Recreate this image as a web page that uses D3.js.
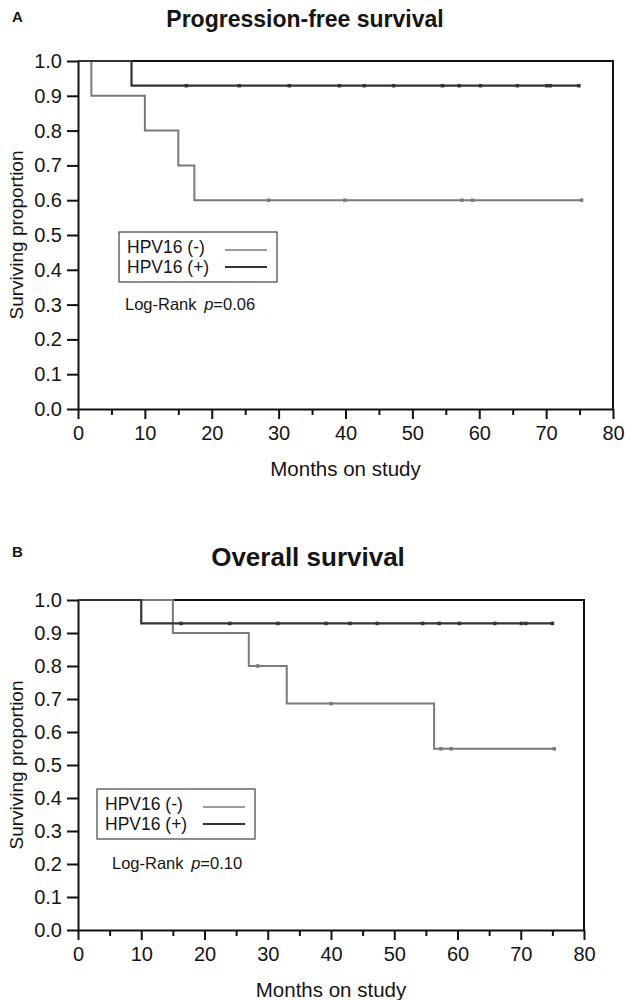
<!DOCTYPE html>
<html>
<head>
<meta charset="utf-8">
<script src="https://cdn.jsdelivr.net/npm/d3@7"></script>
<style>
  body { margin: 0; background: #fff; }
  svg text { font-family: "Liberation Sans", Arial, sans-serif; fill: #151515; }
</style>
</head>
<body>
<div id="canvas"></div>
<script>
// Kaplan-Meier data (months, surviving proportion)
const xTicks = [0, 10, 20, 30, 40, 50, 60, 70, 80];
const xMinorTicks = [5, 15, 25, 35, 45, 55, 65, 75];
const yTicks = [0, 0.1, 0.2, 0.3, 0.4, 0.5, 0.6, 0.7, 0.8, 0.9, 1.0];
const seriesNames = ["HPV16 (-)", "HPV16 (+)"];

// A: progression-free survival
const pfsNegTimes = [0, 2, 10, 15, 17.4];
const pfsNegSurv = [1.0, 0.9, 0.8, 0.7, 0.6];
const pfsNegCensor = [28.5, 39.9, 57.4, 59.0, 75.3];
const pfsPosTimes = [0, 8];
const pfsPosSurv = [1.0, 0.929];
const pfsPosCensor = [16.2, 24.1, 31.6, 39.1, 42.8, 47.2, 54.5, 57.0, 60.2, 65.7, 70.1, 70.6, 74.9];

// B: overall survival
const osNegTimes = [0, 15, 27, 33, 56.3];
const osNegSurv = [1.0, 0.9, 0.8, 0.686, 0.549];
const osNegCensor = [28.4, 40.0, 57.4, 59.0, 75.3];
const osPosTimes = [0, 10];
const osPosSurv = [1.0, 0.929];
const osPosCensor = [16.3, 24.0, 31.6, 39.2, 43.0, 47.3, 54.5, 57.1, 60.3, 65.9, 70.1, 70.8, 75.0];

const negColor = "#7a7a7a";
const posColor = "#333333";

const svg = d3.select("#canvas").append("svg")
  .attr("width", 625)
  .attr("height", 1000);

function curve(times, surv, censor) {
  const pts = times.map((t, i) => ({ t: t, s: surv[i] }));
  const end = d3.max(censor);
  pts.push({ t: end, s: surv[surv.length - 1] });
  return pts;
}

function survAt(times, surv, t) {
  let s = surv[0];
  times.forEach((tt, i) => { if (tt <= t) s = surv[i]; });
  return s;
}

function drawPanel(p) {
  const x = d3.scaleLinear().domain([0, 80]).range([p.left, p.right]);
  const y = d3.scaleLinear().domain([0, 1]).range([p.bottom, p.top]);
  const g = svg.append("g");

  // panel letter + title
  g.append("text").attr("x", 12).attr("y", p.letterY)
    .style("font-size", "15px").style("font-weight", "bold").text(p.letter);
  g.append("text").attr("x", p.titleX).attr("y", p.titleY)
    .attr("text-anchor", "middle")
    .style("font-size", p.titleSize + "px").style("font-weight", "bold").text(p.title);

  // frame (top + right)
  g.append("path")
    .attr("d", `M${p.left},${p.top}H${p.right}V${p.bottom}`)
    .attr("fill", "none").attr("stroke", "#111").attr("stroke-width", 2);

  const line = d3.line().x(d => x(d.t)).y(d => y(d.s)).curve(d3.curveStepAfter);

  const series = [
    { times: p.negTimes, surv: p.negSurv, censor: p.negCensor, color: negColor, w: 2 },
    { times: p.posTimes, surv: p.posSurv, censor: p.posCensor, color: posColor, w: 2.2 }
  ];
  series.forEach(s => {
    g.append("path")
      .datum(curve(s.times, s.surv, s.censor))
      .attr("d", line)
      .attr("fill", "none")
      .attr("stroke", s.color)
      .attr("stroke-width", s.w);
    g.selectAll(null)
      .data(s.censor)
      .enter().append("rect")
      .attr("x", d => x(d) - 1.75)
      .attr("y", d => y(survAt(s.times, s.surv, d)) - 1.75)
      .attr("width", 3.5)
      .attr("height", 3.5)
      .attr("fill", s.color);
  });

  // axes
  const xAxis = g.append("g")
    .attr("transform", `translate(0,${p.bottom})`)
    .call(d3.axisBottom(x).tickValues(xTicks).tickSize(10).tickSizeOuter(0).tickPadding(7));
  g.append("g")
    .attr("transform", `translate(0,${p.bottom})`)
    .call(d3.axisBottom(x).tickValues(xMinorTicks).tickSize(6).tickSizeOuter(0).tickFormat(""))
    .call(a => a.select(".domain").remove());
  const yAxis = g.append("g")
    .attr("transform", `translate(${p.left},0)`)
    .call(d3.axisLeft(y).tickValues(yTicks).tickSize(11).tickSizeOuter(0).tickPadding(5)
      .tickFormat(d3.format(".1f")));

  g.selectAll(".domain").attr("stroke", "#111").attr("stroke-width", 2);
  g.selectAll(".tick line").attr("stroke", "#111").attr("stroke-width", 2);
  xAxis.selectAll("text").style("font-size", "20px").attr("fill", "#151515");
  yAxis.selectAll("text").style("font-size", "20px").attr("fill", "#151515");

  // axis titles
  g.append("text")
    .attr("x", (p.left + p.right) / 2).attr("y", p.bottom + 67)
    .attr("text-anchor", "middle").style("font-size", "20.5px").text("Months on study");
  g.append("text")
    .attr("transform", `translate(23,${(p.top + p.bottom) / 2}) rotate(-90)`)
    .attr("text-anchor", "middle").style("font-size", "19px").text("Surviving proportion");

  // legend
  const lg = g.append("g").attr("transform", `translate(${p.legX},${p.legY})`);
  lg.append("rect").attr("width", 158).attr("height", 50)
    .attr("fill", "none").attr("stroke", "#444").attr("stroke-width", 1.2);
  seriesNames.forEach((name, i) => {
    lg.append("text").attr("x", 8).attr("y", 21 + i * 20)
      .style("font-size", "17.5px").text(name);
    lg.append("line")
      .attr("x1", 106).attr("x2", 148)
      .attr("y1", 18 + i * 17).attr("y2", 18 + i * 17)
      .attr("stroke", i === 0 ? negColor : posColor)
      .attr("stroke-width", i === 0 ? 1.5 : 2.2);
  });

  const lr = g.append("text").attr("x", p.lrX).attr("y", p.lrY).style("font-size", "16.5px");
  lr.append("tspan").text("Log-Rank ");
  lr.append("tspan").style("font-style", "italic").attr("dx", 3).text("p");
  lr.append("tspan").text("=" + p.pval);
}

drawPanel({
  letter: "A", letterY: 22, title: "Progression-free survival", titleX: 305, titleY: 27, titleSize: 23,
  left: 78, right: 613, top: 61, bottom: 409,
  negTimes: pfsNegTimes, negSurv: pfsNegSurv, negCensor: pfsNegCensor,
  posTimes: pfsPosTimes, posSurv: pfsPosSurv, posCensor: pfsPosCensor,
  legX: 119, legY: 232, lrX: 125, lrY: 310, pval: "0.06"
});

drawPanel({
  letter: "B", letterY: 557, title: "Overall survival", titleX: 308, titleY: 566, titleSize: 26,
  left: 78, right: 584, top: 600, bottom: 930,
  negTimes: osNegTimes, negSurv: osNegSurv, negCensor: osNegCensor,
  posTimes: osPosTimes, posSurv: osPosSurv, posCensor: osPosCensor,
  legX: 97, legY: 789, lrX: 112, lrY: 869, pval: "0.10"
});
</script>
</body>
</html>
